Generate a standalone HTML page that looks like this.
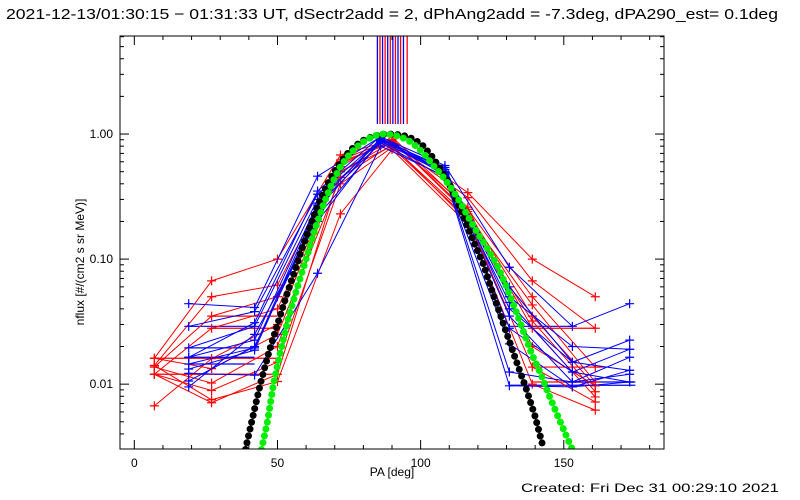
<!DOCTYPE html>
<html><head><meta charset="utf-8"><style>
html,body{margin:0;padding:0;background:#fff;}
svg{display:block;font-family:"Liberation Sans",sans-serif;}
</style></head><body>
<svg id="chart" width="800" height="500" viewBox="0 0 800 500" xmlns="http://www.w3.org/2000/svg">
<rect x="0" y="0" width="800" height="500" fill="#fff"/>
<text x="6" y="19" font-size="15" textLength="772" lengthAdjust="spacingAndGlyphs">2021-12-13/01:30:15 − 01:31:33 UT, dSectr2add = 2, dPhAng2add = -7.3deg, dPA290_est=  0.1deg</text>
<g id="plot"></g>
<text x="392" y="476" font-size="12" text-anchor="middle">PA [deg]</text>
<text x="0" y="0" font-size="12" text-anchor="middle" transform="translate(84,262) rotate(-90)">nflux [#/(cm2 s sr MeV)]</text>
<text x="521" y="492" font-size="12" textLength="258" lengthAdjust="spacingAndGlyphs">Created: Fri Dec 31 00:29:10 2021</text>
</svg>
<script>
const xTicks = [0, 50, 100, 150];
const yTicks = [1.0, 0.1, 0.01];
const yTickLabels = ["1.00", "0.10", "0.01"];
const redPA = [7, 27, 50, 72, 90, 116.5, 139, 161];
const bluePA = [19, 42, 64, 86, 108.5, 131, 153, 173];
const redSeries = [
 [.0161,.067,.1,.68,.9,.34,.1,.05],
 [.0141,.05,.062,.6,.85,.31,.067,.028],
 [.0137,.035,.05,.55,.95,.25,.05,.0137],
 [.012,.028,.04,.5,.8,.22,.043,.0104],
 [.0067,.016,.03,.58,.88,.24,.035,.0097],
 [.0161,.0133,.025,.45,.82,.2,.032,.0087],
 [.0137,.0102,.02,.62,.9,.23,.028,.0079],
 [.012,.0089,.015,.4,.78,.21,.0137,.0072],
 [.0141,.0075,.0105,.23,.75,.19,.01,.0062],
 [.012,.0071,.012,.5,.86,.26,.02,.0097]
];
const blueSeries = [
 [.044,.041,.46,.95,.56,.086,.029,.044],
 [.029,.038,.33,.9,.5,.06,.015,.0225],
 [.0195,.029,.3,.88,.48,.045,.0125,.019],
 [.0164,.0225,.28,.92,.52,.035,.0104,.0164],
 [.0145,.0195,.27,.85,.45,.021,.0095,.0129],
 [.0132,.0187,.25,.93,.47,.0125,.0104,.012],
 [.0122,.0118,.077,.8,.46,.0097,.0095,.0104],
 [.0106,.02,.22,.87,.5,.028,.0125,.0104],
 [.0095,.025,.2,.9,.54,.04,.015,.0129],
 [.0164,.031,.35,.96,.49,.05,.02,.019]
];
const errFrom = [7, 27, 27, 7, 19, 19, 19, 19, 131, 139, 139, 139, 131, 153];
const errTo   = [50, 50, 50, 50, 42, 42, 42, 42, 153, 161, 165, 161, 175, 175];
const errVal  = [.012, .035, .028, .0161, .029, .0195, .0164, .0145, .029, .028, .0137, .0104, .0098, .0104];
const errCol  = ['r','r','r','r','b','b','b','b','b','r','r','r','b','b'];
const blackPA = [38.8,41,44,47,50,53,56,59,62,65,68,71,74,77,80,83,86,89,92,95,98,101,104,107,110,113,116,119,122,125,128,131,134,137,140,143];
const blackVal = [.003,.005,.01,.018,.03,.05,.08,.13,.2,.3,.42,.55,.68,.8,.89,.95,.99,1,.99,.96,.9,.8,.66,.52,.4,.28,.19,.13,.09,.055,.035,.022,.014,.009,.0055,.003];
const greenPA = [44.4,46.5,48.6,51,54,57,60,63,66,69,72,75,78,81,84,87,90,93,96,99,102,105,108,111,114,117,120,123,126.7,130,133,136,139,142,145,148,151,153];
const greenVal = [.003,.005,.01,.018,.035,.06,.1,.17,.27,.4,.55,.68,.8,.9,.97,1,.99,.95,.88,.78,.66,.54,.45,.36,.28,.21,.16,.125,.09,.06,.04,.026,.017,.012,.008,.0055,.0038,.003];
const markPA = [84.9,85.8,86.7,87.6,88.5,89.4,90.3,91.2,92.1,93.0,94.0,95.3];

const L=120,R=664,T=36,B=449, XMIN=-5, XMAX=185, YMAX=Math.log10(6.08), YMIN=Math.log10(0.00303);
const sx=v=>L+(v-XMIN)/(XMAX-XMIN)*(R-L);
const sy=v=>T+(YMAX-Math.log10(v))/(YMAX-YMIN)*(B-T);
const NS="http://www.w3.org/2000/svg";
const plot=document.getElementById('plot');
function mk(tag,attrs,parent){const e=document.createElementNS(NS,tag);for(const k in attrs)e.setAttribute(k,attrs[k]);(parent||plot).appendChild(e);return e;}

const defs=mk('defs',{});
const cp=mk('clipPath',{id:'clip'},defs);
mk('rect',{x:L,y:T,width:R-L,height:B-T},cp);
const data=mk('g',{'clip-path':'url(#clip)'});



markPA.forEach((p,i)=>{
 const ln=mk('line',{x1:sx(p),x2:sx(p),y1:T,y2:124,stroke:i%2?'#f00':'#00f','stroke-width':1.3},data);
 
 
});

errVal.forEach((v,i)=>{
 const ln=mk('line',{x1:sx(errFrom[i]),x2:sx(errTo[i]),y1:sy(v),y2:sy(v),stroke:errCol[i]==='r'?'#f00':'#00f','stroke-width':1.2},data);
 
 
});

function series(pa,vals,color,name){
 const g=mk('g',{},data);
 
 
 mk('polyline',{points:pa.map((p,i)=>sx(p)+','+sy(vals[i])).join(' '),fill:'none',stroke:color,'stroke-width':1},g);
 pa.forEach((p,i)=>{const x=sx(p),y=sy(vals[i]);
  mk('path',{d:`M${x-4.5},${y}H${x+4.5}M${x},${y-4.5}V${y+4.5}`,stroke:color,'stroke-width':1.2},g);});
}
redSeries.forEach((s,i)=>series(redPA,s,'#f00','red-series-'+(i+1)));
blueSeries.forEach((s,i)=>series(bluePA,s,'#00f','blue-series-'+(i+1)));

function dotted(pa,vals,color,name){
 const pl=mk('polyline',{points:pa.map((p,i)=>sx(p)+','+sy(vals[i])).join(' '),fill:'none',stroke:color,'stroke-width':7,'stroke-linecap':'round','stroke-dasharray':'0 7'},data);
 
 
}
dotted(blackPA,blackVal,'#000','black-model-curve');
dotted(greenPA,greenVal,'#0e0','green-model-curve');

const ax=mk('g',{});


mk('rect',{x:L,y:T,width:R-L,height:B-T,fill:'none',stroke:'#000','stroke-width':1},ax);
for(let v=0;v<=180;v+=10){
 const x=sx(v),len=(v%50===0)?9:4;
 mk('line',{x1:x,x2:x,y1:B,y2:B-len,stroke:'#000'},ax);
 mk('line',{x1:x,x2:x,y1:T,y2:T+len,stroke:'#000'},ax);
}
xTicks.forEach(v=>{
 const t=mk('text',{x:sx(v),y:467,'font-size':12,'text-anchor':'middle'},ax);
 t.textContent=String(v);
 
 
});
for(let d=-3;d<=0;d++){
 for(let m=1;m<=9;m++){
  const v=m*Math.pow(10,d); if(v<0.00303||v>6.08)continue;
  const y=sy(v),len=m===1?9:4;
  mk('line',{x1:L,x2:L+len,y1:y,y2:y,stroke:'#000'},ax);
  mk('line',{x1:R,x2:R-len,y1:y,y2:y,stroke:'#000'},ax);
 }
}
yTicks.forEach((v,i)=>{
 const t=mk('text',{x:113,y:sy(v)+4,'font-size':12,'text-anchor':'end'},ax);
 t.textContent=yTickLabels[i];
 
 
});
</script>
</body></html>
